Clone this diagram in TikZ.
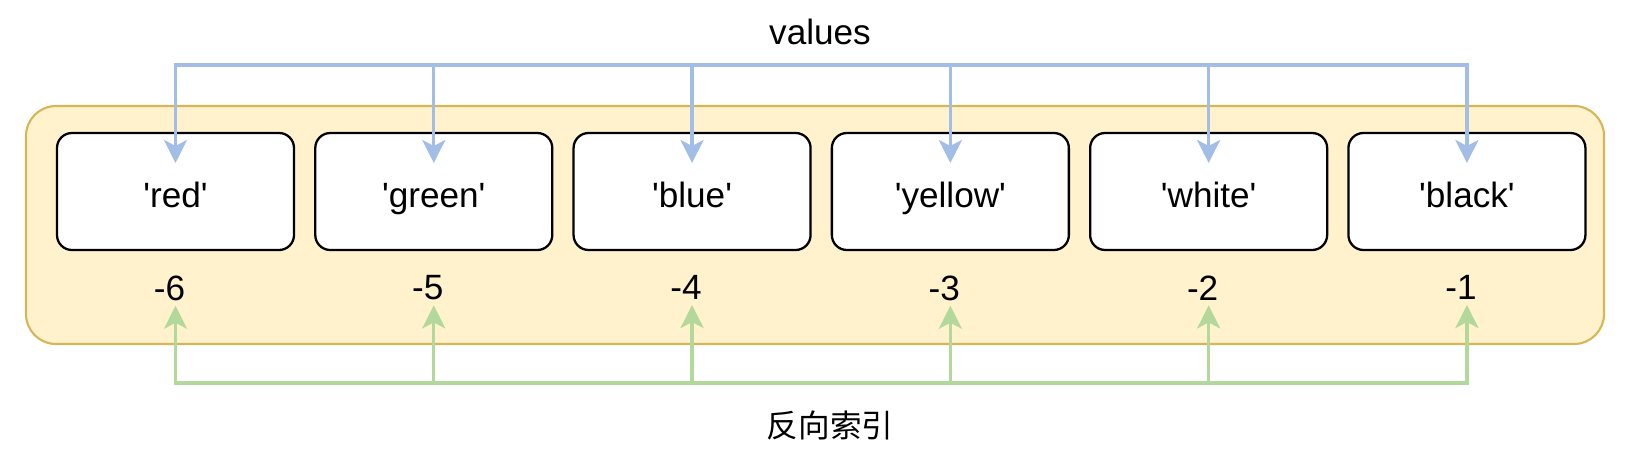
\documentclass[tikz,border=0pt]{standalone}
\usepackage{fontspec}
\setmainfont{Liberation Sans}
\newfontfamily\cjkfont{Noto Sans CJK SC}
\usetikzlibrary{arrows.meta,
                positioning}

\definecolor{valblue}{RGB}{162,190,230}
\definecolor{idxgreen}{RGB}{178,216,155}
\definecolor{panelfill}{HTML}{FFF2CC}
\definecolor{paneldraw}{HTML}{D6B656}

\newcommand{\quoted}[1]{\textquotesingle#1\textquotesingle}

\begin{document}
\begin{tikzpicture}[
    item/.style = {draw, line width = 1.3pt, rounded corners = 0.3cm, fill = white,
                   minimum width = 4.74cm, minimum height = 2.34cm,
                   text height = 0.77cm, text depth = 0.15cm,
                   font = \fontsize{20}{24}\selectfont},
    idx/.style = {inner xsep = 0pt, inner ysep = 0.1cm, font = \fontsize{20}{24}\selectfont},
    valline/.style = {line width = 1.9pt, valblue, line cap = rect},
    idxline/.style = {line width = 1.9pt, idxgreen, line cap = rect},
    valarrow/.style = {line width = 1.9pt, valblue,
                       -{Stealth[length = 0.46cm, width = 0.46cm, inset = 0.12cm]}},
    idxarrow/.style = {line width = 1.9pt, idxgreen,
                       -{Stealth[length = 0.46cm, width = 0.46cm, inset = 0.12cm]}}
]
    \useasboundingbox (0,0) rectangle (32.76,-9.44);

    \draw[fill = panelfill, draw = paneldraw, line width = 1.2pt, rounded corners = 0.6cm]
        (0.52,-2.12) rectangle (32.08,-6.88);

    \node[item] (vred) at (3.51,-3.83) {\quoted{red}};
    \node[item, right = 0.38cm of vred] (vgreen) {\quoted{green}};
    \node[item, right = 0.38cm of vgreen] (vblue) {\quoted{blue}};
    \node[item, right = 0.38cm of vblue] (vyellow) {\quoted{yellow}};
    \node[item, right = 0.38cm of vyellow] (vwhite) {\quoted{white}};
    \node[item, right = 0.38cm of vwhite] (vblack) {\quoted{black}};

    \node[idx, below = 0.38cm of vred, xshift = -0.12cm] (n6) {-6};
    \node[idx, below = 0.38cm of vgreen, xshift = -0.12cm] (n5) {-5};
    \node[idx, below = 0.38cm of vblue, xshift = -0.12cm] (n4) {-4};
    \node[idx, below = 0.38cm of vyellow, xshift = -0.12cm] (n3) {-3};
    \node[idx, below = 0.38cm of vwhite, xshift = -0.12cm] (n2) {-2};
    \node[idx, below = 0.38cm of vblack, xshift = -0.12cm] (n1) {-1};

    \coordinate (valbus) at (0,-1.3);
    \coordinate (valtip) at (0,-3.26);
    \coordinate (idxbus) at (0,-7.66);

    \node[font = \fontsize{20}{24}\selectfont] (values) at (16.4,-0.64) {values};
    \node[font = \cjkfont\fontsize{18}{22}\selectfont] (revidx) at (16.6,-8.5) {反向索引};

    \draw[valline] (vred |- valbus) -- (vblack |- valbus);
    \draw[valarrow] (vred |- valbus) -- (vred |- valtip);
    \draw[valarrow] (vgreen |- valbus) -- (vgreen |- valtip);
    \draw[valarrow] (vblue |- valbus) -- (vblue |- valtip);
    \draw[valarrow] (vyellow |- valbus) -- (vyellow |- valtip);
    \draw[valarrow] (vwhite |- valbus) -- (vwhite |- valtip);
    \draw[valarrow] (vblack |- valbus) -- (vblack |- valtip);

    \draw[idxline] (vred |- idxbus) -- (vblack |- idxbus);
    \draw[idxarrow] (vred |- idxbus) -- (vred |- n6.south);
    \draw[idxarrow] (vgreen |- idxbus) -- (vgreen |- n5.south);
    \draw[idxarrow] (vblue |- idxbus) -- (vblue |- n4.south);
    \draw[idxarrow] (vyellow |- idxbus) -- (vyellow |- n3.south);
    \draw[idxarrow] (vwhite |- idxbus) -- (vwhite |- n2.south);
    \draw[idxarrow] (vblack |- idxbus) -- (vblack |- n1.south);
\end{tikzpicture}
\end{document}
